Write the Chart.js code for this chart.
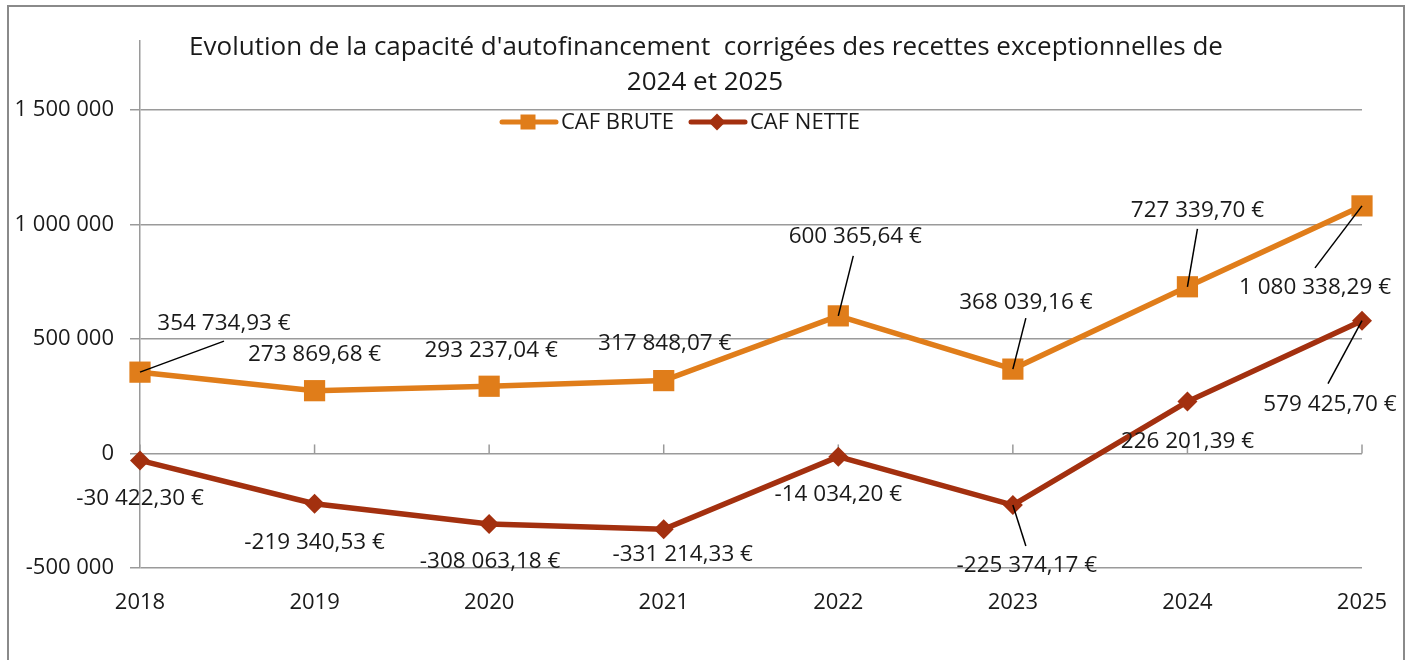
<!DOCTYPE html>
<html lang="fr">
<head>
<meta charset="utf-8">
<title>Evolution de la CAF</title>
<script src="https://cdn.jsdelivr.net/npm/chart.js@4.4.0/dist/chart.umd.min.js"></script>
<style>
  html, body { margin: 0; padding: 0; background: #fff; }
  #wrap { width: 1412px; height: 660px; }
</style>
</head>
<body>
<div id="wrap"><canvas id="caf-chart" width="1412" height="660"></canvas></div>
<script>
// ------------------------------------------------------
// @Data
// ------------------------------------------------------
const years = ['2018', '2019', '2020', '2021', '2022', '2023', '2024', '2025'];
const cafBrute = [354734.93, 273869.68, 293237.04, 317848.07, 600365.64, 368039.16, 727339.70, 1080338.29];
const cafNette = [-30422.30, -219340.53, -308063.18, -331214.33, -14034.20, -225374.17, 226201.39, 579425.70];
const yTicks = [-500000, 0, 500000, 1000000, 1500000];

const titleLines = ["Evolution de la capacité d'autofinancement  corrigées des recettes exceptionnelles de", '2024 et 2025'];

// label placement (pixel offsets from the point: label centre, leader end)
const bruteLabelPos = [[84, -49, 84, -31], [0, -36], [2, -36], [1, -37], [17, -79, 15, -60], [13, -67, 13, -51], [10, -76, 10, -58], [-47, 82, -47, 62]];
const netteLabelPos = [[0, 38], [0, 39], [1, 38], [19, 25], [0, 38], [14, 61, 13, 41], [0, 40], [-32, 84, -34, 63]];

const FONT = '"Open Sans", "Noto Sans", sans-serif';
const TEXT = '#1a1a1a';
const GRID = '#9a9a9a';
const ORANGE = '#E07D1A';
const RED = '#A3300F';

function fmtThousands(n) {
    const neg = n < 0;
    const s = Math.abs(Math.round(n)).toString().replace(/\B(?=(\d{3})+(?!\d))/g, ' ');
    return (neg ? '-' : '') + s;
}

function fmtEuro(n) {
    const neg = n < 0;
    const parts = Math.abs(n).toFixed(2).split('.');
    const intPart = parts[0].replace(/\B(?=(\d{3})+(?!\d))/g, ' ');
    return (neg ? '-' : '') + intPart + ',' + parts[1] + ' €';
}

function drawMarker(ctx, style, x, y, size, color) {
    ctx.fillStyle = color;
    ctx.beginPath();
    if (style === 'rect') {
        ctx.rect(x - size / 2, y - size / 2, size, size);
    } else {
        ctx.moveTo(x, y - size / 2);
        ctx.lineTo(x + size / 2, y);
        ctx.lineTo(x, y + size / 2);
        ctx.lineTo(x - size / 2, y);
        ctx.closePath();
    }
    ctx.fill();
}

const decorations = {
    id: 'decorations',
    beforeDatasetsDraw(chart) {
        // small category ticks sitting on the zero line
        const ctx = chart.ctx;
        const x = chart.scales.x;
        const y0 = chart.scales.y.getPixelForValue(0);
        ctx.save();
        ctx.strokeStyle = GRID;
        ctx.lineWidth = 1.5;
        years.forEach((_, i) => {
            const px = x.getPixelForValue(i);
            ctx.beginPath();
            ctx.moveTo(px, y0);
            ctx.lineTo(px, y0 - 9);
            ctx.stroke();
        });
        ctx.restore();
    },
    afterDatasetsDraw(chart) {
        const ctx = chart.ctx;
        ctx.save();
        ctx.font = '22.5px ' + FONT;
        ctx.textAlign = 'center';
        ctx.textBaseline = 'middle';
        const sets = [[0, bruteLabelPos], [1, netteLabelPos]];
        sets.forEach(([di, pos]) => {
            const meta = chart.getDatasetMeta(di);
            const values = chart.data.datasets[di].data;
            meta.data.forEach((pt, i) => {
                const p = pos[i];
                if (p.length > 2) {
                    ctx.strokeStyle = '#000';
                    ctx.lineWidth = 1.5;
                    ctx.beginPath();
                    ctx.moveTo(pt.x, pt.y);
                    ctx.lineTo(pt.x + p[2], pt.y + p[3]);
                    ctx.stroke();
                }
                ctx.fillStyle = TEXT;
                ctx.fillText(fmtEuro(values[i]), pt.x + p[0], pt.y + p[1]);
            });
        });
        ctx.restore();
    },
    afterDraw(chart) {
        const ctx = chart.ctx;
        ctx.save();

        // outer frame
        ctx.strokeStyle = '#8a8a8a';
        ctx.lineWidth = 2;
        ctx.strokeRect(8, 6, 1396, 700);

        // title
        ctx.fillStyle = TEXT;
        ctx.font = '26px ' + FONT;
        ctx.textAlign = 'center';
        ctx.textBaseline = 'middle';
        ctx.fillText(titleLines[0], 706, 48);
        ctx.fillText(titleLines[1], 705, 83);

        // legend
        let lx = 500;
        const ly = 122;
        ctx.font = '22px ' + FONT;
        ctx.textAlign = 'left';
        chart.data.datasets.forEach(ds => {
            ctx.strokeStyle = ds.borderColor;
            ctx.lineWidth = 5;
            ctx.lineCap = 'round';
            ctx.beginPath();
            ctx.moveTo(lx + 2, ly);
            ctx.lineTo(lx + 56, ly);
            ctx.stroke();
            drawMarker(ctx, ds.pointStyle, lx + 28, ly, ds.pointStyle === 'rect' ? 15 : 17, ds.borderColor);
            ctx.fillStyle = TEXT;
            ctx.fillText(ds.label, lx + 61, ly + 1);
            lx += 61 + ctx.measureText(ds.label).width + 15;
        });
        ctx.restore();
    }
};

let cafChartBox = document.getElementById('caf-chart');

if (cafChartBox) {
    let cafCtx = cafChartBox.getContext('2d');

    new Chart(cafCtx, {
        type: 'line',
        data: {
            labels: years,
            datasets: [{
                label: 'CAF BRUTE',
                data: cafBrute,
                borderColor: ORANGE,
                backgroundColor: ORANGE,
                pointBackgroundColor: ORANGE,
                pointBorderColor: ORANGE,
                pointStyle: 'rect',
                pointRadius: 15,
                pointBorderWidth: 0,
                borderWidth: 5.5,
                tension: 0
            }, {
                label: 'CAF NETTE',
                data: cafNette,
                borderColor: RED,
                backgroundColor: RED,
                pointBackgroundColor: RED,
                pointBorderColor: RED,
                pointStyle: 'rectRot',
                pointRadius: 10,
                pointBorderWidth: 0,
                borderWidth: 5.5,
                tension: 0
            }]
        },
        options: {
            responsive: false,
            animation: false,
            layout: {
                padding: { top: 41, right: 50, left: 0, bottom: 0 }
            },
            plugins: {
                legend: { display: false },
                title: { display: false },
                tooltip: { enabled: false }
            },
            scales: {
                x: {
                    offset: false,
                    grid: { display: false, drawTicks: false },
                    border: { display: false },
                    ticks: {
                        color: TEXT,
                        font: { family: FONT, size: 22 },
                        padding: 22,
                        maxRotation: 0
                    },
                    afterFit(scale) { scale.height = 92; }
                },
                y: {
                    min: -500000,
                    max: 1800000,
                    grid: {
                        color: GRID,
                        lineWidth: 1.5,
                        tickLength: 10,
                        tickColor: GRID
                    },
                    border: { display: true, color: GRID, width: 1.5 },
                    ticks: {
                        stepSize: 500000,
                        color: TEXT,
                        font: { family: FONT, size: 22 },
                        padding: 16,
                        callback: v => fmtThousands(v)
                    },
                    afterBuildTicks(scale) {
                        scale.ticks = yTicks.map(v => ({ value: v }));
                    },
                    afterFit(scale) { scale.width = 140; }
                }
            }
        },
        plugins: [decorations]
    });
}
</script>
</body>
</html>
